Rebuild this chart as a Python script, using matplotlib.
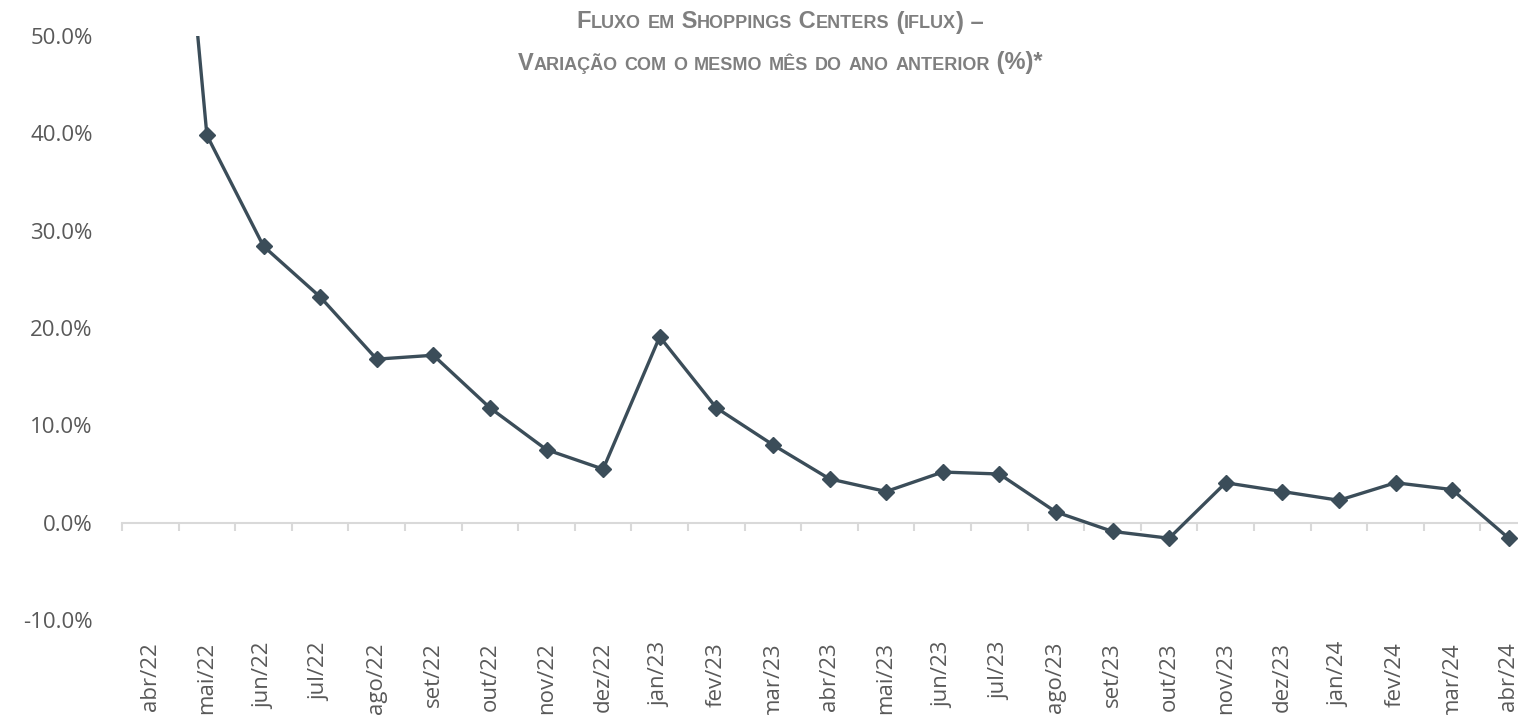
import matplotlib
matplotlib.use("Agg")
import matplotlib.pyplot as plt
import numpy as np
from matplotlib.offsetbox import TextArea, HPacker, AnchoredOffsetbox
from matplotlib.ticker import FixedLocator, PercentFormatter

plt.rcParams["axes.unicode_minus"] = False

months = ["abr/22", "mai/22", "jun/22", "jul/22", "ago/22", "set/22", "out/22",
          "nov/22", "dez/22", "jan/23", "fev/23", "mar/23", "abr/23", "mai/23",
          "jun/23", "jul/23", "ago/23", "set/23", "out/23", "nov/23", "dez/23",
          "jan/24", "fev/24", "mar/24", "abr/24"]
values = [103.0, 39.8, 28.4, 23.2, 16.8, 17.2, 11.8, 7.5, 5.5, 19.1, 11.8, 8.0,
          4.5, 3.2, 5.2, 5.0, 1.1, -0.9, -1.6, 4.1, 3.2, 2.3, 4.1, 3.4, -1.6]
yticks = [-10, 0, 10, 20, 30, 40, 50]
title_lines = ["Fluxo em Shoppings Centers (iflux) –",
               "Variação com o mesmo mês do ano anterior (%)*"]

W, H = 1518, 715
fig = plt.figure(figsize=(W / 100, H / 100), dpi=100)
left_px, step = 122, 56.6
ax_w = 25 * step
ax = fig.add_axes([left_px / W, (H - 620) / H, ax_w / W, 584 / H])

x = np.arange(len(months))
line_color = "#3b4d59"
ax.plot(x, values, color=line_color, lw=2.4, marker="D", ms=8.5,
        mfc=line_color, mec=line_color, zorder=3)
ax.set_xlim(-0.5, len(months) - 0.5)
ax.set_ylim(-10, 50)

for s in ["top", "right", "left"]:
    ax.spines[s].set_visible(False)
ax.spines["bottom"].set_position(("data", 0))
ax.spines["bottom"].set_color("#d9d9d9")
ax.spines["bottom"].set_linewidth(1.5)

tick_size = 16
ax.set_xticks(x)
ax.set_xticklabels(months, rotation=90, fontfamily="Open Sans",
                   fontsize=tick_size, color="#595959")
ax.xaxis.set_minor_locator(FixedLocator(np.arange(-0.5, len(months), 1)))
ax.tick_params(axis="x", which="major", length=0, pad=86)
ax.tick_params(axis="x", which="minor", length=6, width=1.5, color="#d9d9d9",
               direction="out")
ax.set_yticks(yticks)
ax.yaxis.set_major_formatter(PercentFormatter(decimals=1))
ax.tick_params(axis="y", length=0, pad=21, labelsize=tick_size,
               labelcolor="#595959")
for lab in ax.get_yticklabels():
    lab.set_fontfamily("Open Sans")


def smallcaps_box(s, big, small, color="#7f7f7f"):
    parts = []
    cur, cur_small = "", None
    for ch in s:
        is_small = ch.islower()
        if cur_small is None or is_small == cur_small:
            cur += ch
            cur_small = is_small
        else:
            parts.append((cur, cur_small))
            cur, cur_small = ch, is_small
    if cur:
        parts.append((cur, cur_small))
    children = []
    for txt, sm in parts:
        children.append(TextArea(txt.upper() if sm else txt,
                                 textprops=dict(family="Liberation Sans",
                                                weight="bold", color=color,
                                                size=small if sm else big)))
    return HPacker(children=children, align="baseline", pad=0, sep=0)


for i, (line, yc) in enumerate(zip(title_lines, [22, 63])):
    box = smallcaps_box(line, 17, 13)
    anch = AnchoredOffsetbox(loc="center", child=box, pad=0, borderpad=0,
                             frameon=False,
                             bbox_to_anchor=(780 / W, 1 - yc / H),
                             bbox_transform=fig.transFigure)
    fig.add_artist(anch)

fig.savefig("out.png", dpi=100)
